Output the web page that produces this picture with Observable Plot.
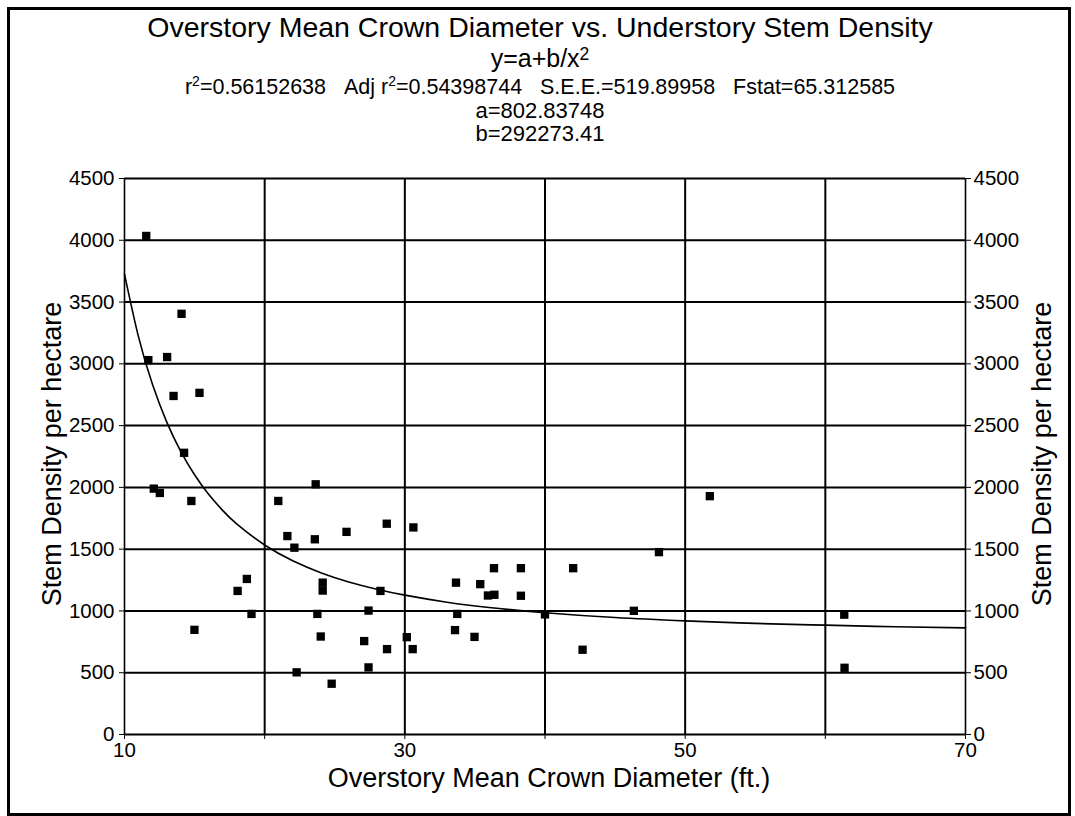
<!DOCTYPE html>
<html>
<head>
<meta charset="utf-8">
<script src="https://cdn.jsdelivr.net/npm/d3@7"></script>
<script src="https://cdn.jsdelivr.net/npm/@observablehq/plot@0.6"></script>
<style>
  html, body { margin: 0; padding: 0; background: #fff; }
  #wrap { position: relative; width: 1075px; height: 816px; overflow: hidden; background: #fff; }
  #wrap svg { position: absolute; left: 0; top: 0; }
  #border { position: absolute; left: 7px; top: 7px; width: 1064px; height: 809px; border: 3px solid #000; box-sizing: border-box; pointer-events: none; }
</style>
</head>
<body>
<div id="wrap"><div id="border"></div></div>
<script>
// Observed points (overstory mean crown diameter, ft.; stem density per hectare)
const crownDiameter = [
  11.55, 11.7, 13.04, 14.07, 13.5, 15.35, 14.25, 12.09, 12.52, 14.77,
  23.64, 20.97, 21.62, 22.12, 23.58, 25.84, 28.71, 30.61, 18.73, 18.07,
  19.06, 14.99, 24.14, 24.14, 28.26, 23.76, 27.41, 24.0, 27.1, 28.73,
  30.14, 30.56, 27.41, 22.28, 24.78, 33.65, 35.38, 33.74, 33.58, 34.97,
  35.93, 36.39, 36.36, 38.28, 38.28, 42.01, 40.0, 46.34, 42.68, 48.13,
  51.76, 61.35, 61.37
];
const stemDensity = [
  4035, 3030, 3055, 3405, 2740, 2765, 2280, 1990, 1955, 1890,
  2025, 1890, 1606, 1512, 1580, 1640, 1706, 1676, 1259, 1162,
  976, 847, 1229, 1165, 1162, 976, 1003, 793, 756, 691,
  788, 691, 543, 503, 411, 1229, 1217, 976, 845, 790,
  1125, 1131, 1346, 1346, 1123, 1346, 972, 1001, 686, 1476,
  1929, 970, 540
];
// Fitted curve y = a + b/x^2 as drawn in the chart
const fitDiameter = [10, 11, 12, 13, 14, 15, 16, 17, 18, 20, 22, 24, 26, 28, 30, 33, 36, 40, 45, 50, 55, 60, 65, 70];
const fitDensity  = [3726, 3218, 2832, 2532, 2294, 2102, 1944, 1814, 1705, 1534, 1407, 1310, 1235, 1176, 1128, 1071, 1028, 986, 947, 920, 899, 885, 872, 863];

const yTicks = [0, 500, 1000, 1500, 2000, 2500, 3000, 3500, 4000, 4500];
const xTicks = [10, 20, 30, 40, 50, 60, 70];
const xTickLabels = ["10", "", "30", "", "50", "", "70"];

const titleText = "Overstory Mean Crown Diameter vs. Understory Stem Density";
const xTitle = "Overstory Mean Crown Diameter (ft.)";
const yTitle = "Stem Density per hectare";

const points = crownDiameter.map((x, i) => ({x, y: stemDensity[i]}));
const fit = fitDiameter.map((x, i) => ({x, y: fitDensity[i]}));

const font = "'Liberation Sans', Arial, Helvetica, sans-serif";

const chart = Plot.plot({
  width: 1075,
  height: 816,
  marginLeft: 124,
  marginRight: 110,
  marginTop: 178,
  marginBottom: 82,
  x: {domain: [10, 70]},
  y: {domain: [0, 4500]},
  style: {fontFamily: font, fontSize: "20.5px", color: "#000", background: "transparent", overflow: "visible"},
  marks: [
    Plot.gridY(yTicks, {stroke: "#000", strokeOpacity: 1, strokeWidth: 2}),
    Plot.gridX(xTicks.slice(1, -1), {stroke: "#000", strokeOpacity: 1, strokeWidth: 2}),
    Plot.ruleX([10, 70], {stroke: "#000", strokeWidth: 1.6}),
    Plot.axisY(yTicks, {anchor: "left", tickSize: 5, tickPadding: 5, label: null, fontSize: 20.5, stroke: "#000",
      tickFormat: d => String(d)}),
    Plot.axisY(yTicks, {anchor: "right", tickSize: 5, tickPadding: 3, label: null, fontSize: 20.5, stroke: "#000",
      tickFormat: d => String(d)}),
    Plot.axisX(xTicks, {anchor: "bottom", tickSize: 5, tickPadding: 3, label: null, fontSize: 20.5, stroke: "#000",
      tickFormat: d => xTickLabels[xTicks.indexOf(d)]}),
    Plot.line(fit, {x: "x", y: "y", curve: "natural", stroke: "#000", strokeWidth: 1.6}),
    Plot.dot(points, {x: "x", y: "y", symbol: "square", r: 4.7, fill: "#000", stroke: "none"})
  ]
});

document.getElementById("wrap").insertBefore(chart, document.getElementById("border"));

const svg = d3.select(chart);
const g = svg.append("g").attr("font-family", font).attr("fill", "#000");

function line(y, size, parts, supScale, shift) {
  const t = g.append("text").attr("x", 540).attr("y", y).attr("text-anchor", "middle").attr("font-size", size);
  const sh = size * (shift || 0.38);
  let shifted = false;
  parts.forEach(p => {
    const s = t.append("tspan").text(p.t);
    if (p.sup) {
      s.attr("font-size", size * (supScale || 0.65)).attr("dy", -sh);
      shifted = true;
    } else if (shifted) {
      s.attr("dy", sh);
      shifted = false;
    }
  });
  return t;
}

const gap = "\u00a0\u00a0\u00a0";
line(37, 28.5, [{t: titleText}]);
line(67, 25, [{t: "y=a+b/x"}, {t: "2", sup: true}], 0.7, 0.3);
line(94, 21.5, [
  {t: "r"}, {t: "2", sup: true}, {t: "=0.56152638" + gap + "Adj r"}, {t: "2", sup: true},
  {t: "=0.54398744" + gap + "S.E.E.=519.89958" + gap + "Fstat=65.312585"}
]);
line(118, 22, [{t: "a=802.83748"}]);
line(141, 22, [{t: "b=292273.41"}]);

g.append("text").attr("x", 549).attr("y", 787).attr("text-anchor", "middle").attr("font-size", 27).text(xTitle);
g.append("text").attr("transform", "translate(60.5,454) rotate(-90)").attr("text-anchor", "middle").attr("font-size", 27).text(yTitle);
g.append("text").attr("transform", "translate(1051,454) rotate(-90)").attr("text-anchor", "middle").attr("font-size", 27).text(yTitle);
</script>
</body>
</html>
